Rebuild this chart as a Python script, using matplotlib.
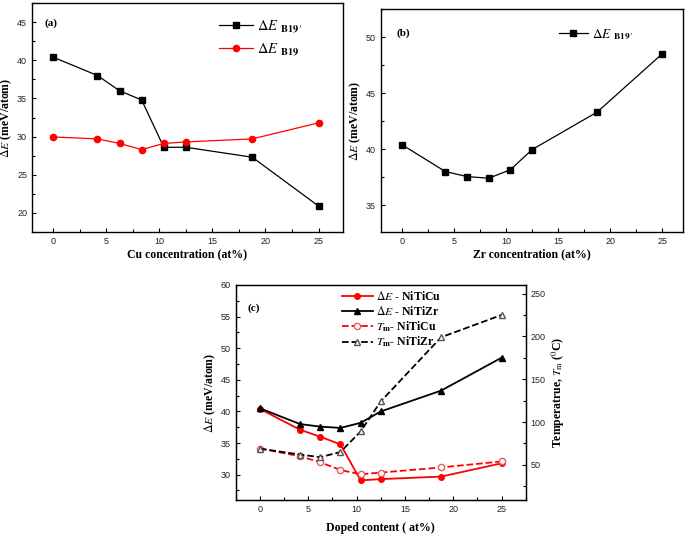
import numpy as np
import matplotlib
matplotlib.use("Agg")
import matplotlib.pyplot as plt
from matplotlib.ticker import MultipleLocator

plt.rcParams['mathtext.fontset'] = 'stix'
plt.rcParams['font.family'] = 'Liberation Serif'

# doping levels (at%)
x = [0, 4.17, 6.25, 8.33, 10.42, 12.5, 18.75, 25]

# panel (a): Cu doping
cu_b19p = [40.4, 38.0, 36.0, 34.8, 28.6, 28.6, 27.3, 20.9]
cu_b19 = [29.95, 29.7, 29.1, 28.3, 29.1, 29.3, 29.7, 31.8]

# panel (b): Zr doping
zr_b19p = [40.4, 38.0, 37.55, 37.4, 38.15, 39.95, 43.3, 48.5]

# panel (c)
de_niticu = [40.4, 37.1, 36.0, 34.8, 29.1, 29.3, 29.7, 31.8]
de_nitizr = [40.5, 38.0, 37.6, 37.4, 38.2, 40.0, 43.3, 48.5]
tm_niticu = [69, 60, 53, 44, 39, 41, 47, 54]
tm_nitizr = [69, 62, 59, 65, 89, 124, 199, 225]

tick_font = dict(family='Liberation Sans', size=6.5, color='#222222')
lab_font = dict(family='Liberation Serif', size=8.5, weight='bold')

lbl_b19p = r'$\Delta E$ $_{\mathbf{B19}\,′}$'
lbl_b19 = r'$\Delta E$ $_{\mathbf{B19}}$'


def style(ax, xlim, ylim, ymaj):
    ax.set_xlim(*xlim)
    ax.set_ylim(*ylim)
    ax.xaxis.set_major_locator(MultipleLocator(5))
    ax.xaxis.set_minor_locator(MultipleLocator(2.5))
    ax.yaxis.set_major_locator(MultipleLocator(ymaj))
    ax.yaxis.set_minor_locator(MultipleLocator(ymaj / 2))
    ax.tick_params(which='both', direction='in', top=False, right=False)
    ax.tick_params(which='major', length=3, width=0.8)
    ax.tick_params(which='minor', length=2, width=0.8)
    for lbl in ax.get_xticklabels() + ax.get_yticklabels():
        lbl.set_fontfamily(tick_font['family'])
        lbl.set_fontsize(tick_font['size'])
        lbl.set_color(tick_font['color'])
    for s in ax.spines.values():
        s.set_linewidth(1.0)


fig = plt.figure(figsize=(6.85, 5.34), dpi=100)

# (a)
ax1 = fig.add_axes([0.0467, 0.5655, 0.454, 0.4289])
ax1.plot(x, cu_b19p, '-s', color='black', lw=0.9, ms=4, label=lbl_b19p)
ax1.plot(x, cu_b19, '-o', color='red', lw=0.9, ms=4.5, label=lbl_b19)
style(ax1, (-2, 27.3), (17.5, 47.5), 5)
ax1.set_xlabel('Cu concentration (at%)', **lab_font, labelpad=2)
ax1.set_ylabel(r'$\Delta E$ (meV/atom)', **lab_font, labelpad=2)
ax1.text(0.04, 0.9, '(a)', transform=ax1.transAxes, fontsize=8, weight='bold')
ax1.legend(loc='upper left', bbox_to_anchor=(0.56, 0.99), frameon=False,
           prop=dict(family='Liberation Serif', size=10.5, weight='bold'),
           handlelength=2.3, handletextpad=0.3, labelspacing=0.45)

# (b)
ax2 = fig.add_axes([0.5562, 0.5655, 0.4409, 0.4176])
ax2.plot(x, zr_b19p, '-s', color='black', lw=0.9, ms=4, label=lbl_b19p)
style(ax2, (-2, 27), (32.6, 52.5), 5)
ax2.set_xlabel('Zr concentration (at%)', **lab_font, labelpad=2)
ax2.set_ylabel(r'$\Delta E$ (meV/atom)', **lab_font, labelpad=2)
ax2.text(0.05, 0.88, '(b)', transform=ax2.transAxes, fontsize=8, weight='bold')
ax2.legend(loc='upper left', bbox_to_anchor=(0.55, 0.97), frameon=False,
           prop=dict(family='Liberation Serif', size=9.5, weight='bold'),
           handlelength=2.2, handletextpad=0.3)

# (c)
ax3 = fig.add_axes([0.3441, 0.0637, 0.4234, 0.4026])
l1, = ax3.plot(x, de_niticu, '-o', color='red', lw=1.3, ms=4,
               label=r'$\Delta E$ - NiTiCu')
l2, = ax3.plot(x, de_nitizr, '-^', color='black', lw=1.3, ms=4.5,
               label=r'$\Delta E$ - NiTiZr')
style(ax3, (-2.5, 27.5), (26, 60), 5)
ax3.set_xlabel('Doped content ( at%)', **lab_font, labelpad=6)
ax3.set_ylabel(r'$\Delta E$ (meV/atom)', **lab_font, labelpad=2)
ax3.text(0.04, 0.88, '(c)', transform=ax3.transAxes, fontsize=8, weight='bold')

ax4 = ax3.twinx()
l3, = ax4.plot(x, tm_niticu, '--o', color='red', lw=1.3, ms=4.5,
               mfc='white', mec='#e06060', label=r'$T_{\mathbf{m}}$- NiTiCu')
l4, = ax4.plot(x, tm_nitizr, '--^', color='black', lw=1.3, ms=5,
               mfc='white', mec='#555555', label=r'$T_{\mathbf{m}}$- NiTiZr')
ax4.set_ylim(9, 260)
ax4.yaxis.set_major_locator(MultipleLocator(50))
ax4.yaxis.set_minor_locator(MultipleLocator(25))
ax4.tick_params(which='both', direction='in')
ax4.tick_params(which='major', length=3, width=0.8)
ax4.tick_params(which='minor', length=2, width=0.8)
for lbl in ax4.get_yticklabels():
    lbl.set_fontfamily(tick_font['family'])
    lbl.set_fontsize(tick_font['size'])
    lbl.set_color(tick_font['color'])
ax4.set_ylabel(r'Temperatrue, $T_{\rm m}$ ($^{\rm 0}$C)', **lab_font, labelpad=3)
ax3.legend(handles=[l1, l2, l3, l4], loc='upper left',
           bbox_to_anchor=(0.33, 1.025), frameon=False,
           prop=dict(family='Liberation Serif', size=8.5, weight='bold'),
           handlelength=2.6, handletextpad=0.3, labelspacing=0.12)

fig.savefig('out.png', dpi=100)
